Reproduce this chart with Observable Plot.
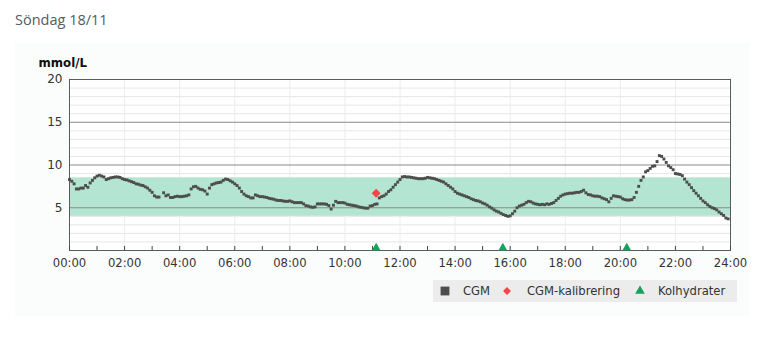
<!DOCTYPE html>
<html>
<head>
<meta charset="utf-8">
<script src="https://cdn.jsdelivr.net/npm/d3@7"></script>
<script src="https://cdn.jsdelivr.net/npm/@observablehq/plot@0.6"></script>
<style>
  body { margin: 0; background: #ffffff; width: 767px; height: 338px; position: relative; overflow: hidden; }
  #title { position: absolute; left: 15px; top: 13px; font: 14.5px/1 "Open Sans", sans-serif; color: #555b60; }
  #panel { position: absolute; left: 15px; top: 42px; width: 735px; height: 274px; background: #fbfcfc; }
  #chart { position: absolute; left: 0; top: 40px; }
  #legend { position: absolute; left: 433px; top: 280px; width: 304px; height: 22px; background: #ececec;
            font: 11.6px "DejaVu Sans", sans-serif; color: #333; }
  #legend svg { position: absolute; top: 0; }
  #legend span { position: absolute; top: 4px; white-space: nowrap; }
</style>
</head>
<body>
<div id="panel"></div>
<div id="title">Söndag 18/11</div>
<div id="chart"></div>
<div id="legend"></div>
<script>
// CGM readings (mmol/L), one per 5 minutes, one row per hour (null = missing)
const cgmHour00 = [8.3, 8.1, 7.8, 7.2, 7.2, 7.3, 7.3, 7.6, 7.4, 7.9, 8.2, 8.5];
const cgmHour01 = [8.7, 8.8, 8.7, 8.6, 8.3, 8.4, 8.5, 8.55, 8.6, 8.6, 8.55, 8.4];
const cgmHour02 = [8.3, 8.25, 8.15, 8.05, 7.95, 7.8, 7.75, 7.65, 7.6, 7.45, 7.3, 7.05];
const cgmHour03 = [6.8, 6.4, 6.25, 6.25, null, 6.75, 6.4, 6.5, 6.2, 6.2, 6.3, 6.35];
const cgmHour04 = [6.3, 6.3, 6.35, 6.4, 6.5, 7.2, 7.45, 7.5, 7.3, 7.15, 7.1, 6.95];
const cgmHour05 = [6.6, 7.3, 7.7, 7.8, 7.9, 7.95, 8.0, 8.2, 8.35, 8.3, 8.15, 8.0];
const cgmHour06 = [7.8, 7.6, 7.3, 6.9, 6.6, 6.4, 6.3, 6.15, 6.15, 6.5, 6.4, 6.3];
const cgmHour07 = [6.3, 6.25, 6.2, 6.1, 6.05, 6.0, 5.9, 5.85, 5.85, 5.8, 5.75, 5.75];
const cgmHour08 = [5.8, 5.7, 5.6, 5.6, 5.6, 5.6, 5.45, 5.25, 5.2, 5.1, 5.05, 5.1];
const cgmHour09 = [5.45, 5.45, 5.45, 5.45, 5.4, 5.25, 4.85, 5.3, 5.75, 5.6, 5.6, 5.6];
const cgmHour10 = [5.55, 5.4, 5.35, 5.3, 5.25, 5.2, 5.1, 5.05, 5.0, 4.95, 4.95, 5.2];
const cgmHour11 = [5.25, 5.4, 5.45, 6.15, 6.3, 6.4, 6.6, 6.9, 7.1, 7.4, 7.7, 8.0];
const cgmHour12 = [8.3, 8.6, 8.65, 8.6, 8.6, 8.55, 8.5, 8.45, 8.4, 8.4, 8.4, 8.45];
const cgmHour13 = [8.55, 8.5, 8.45, 8.4, 8.3, 8.2, 8.1, 8.0, 7.8, 7.6, 7.4, 7.2];
const cgmHour14 = [6.9, 6.7, 6.6, 6.5, 6.4, 6.3, 6.2, 6.05, 5.95, 5.85, 5.8, 5.7];
const cgmHour15 = [5.55, 5.45, 5.3, 5.1, 4.95, 4.75, 4.6, 4.5, 4.35, 4.2, 4.1, 4.0];
const cgmHour16 = [4.05, 4.3, 4.6, 5.0, 5.2, 5.3, 5.4, 5.6, 5.75, 5.7, 5.55, 5.45];
const cgmHour17 = [5.4, 5.35, 5.4, 5.35, 5.45, 5.4, 5.5, 5.6, 5.85, 6.1, 6.35, 6.5];
const cgmHour18 = [6.6, 6.65, 6.7, 6.7, 6.75, 6.8, 6.8, 6.9, 7.05, 6.75, 6.55, 6.5];
const cgmHour19 = [6.4, 6.35, 6.35, 6.3, 6.15, 6.05, 5.95, 5.7, 6.1, 6.4, 6.35, 6.3];
const cgmHour20 = [6.25, 6.05, 5.95, 5.9, 5.9, 5.95, 6.2, 6.8, 7.5, 8.2, 8.6, 9.2];
const cgmHour21 = [9.35, 9.6, 9.85, 9.9, 10.4, 11.1, 11.0, 10.7, 10.3, 9.9, 9.7, 9.45];
const cgmHour22 = [9.0, 8.95, 8.9, 8.75, 8.35, 8.0, 7.7, 7.35, 7.0, 6.7, 6.4, 6.1];
const cgmHour23 = [5.8, 5.6, 5.35, 5.15, 5.0, 4.9, 4.75, 4.5, 4.3, 4.1, 3.8, 3.7];

// CGM calibration
const calibTimes = ["11:08"];
const calibValues = [6.7];

// Carbohydrate entries
const carbTimes = ["11:08", "15:44", "20:14"];

// Target range (mmol/L)
const targetLow = [4.0];
const targetHigh = [8.5];

// Axis ticks
const yTicks = [5, 10, 15, 20];
const yMajorGrid = [5, 10, 15];
const yMinorGrid = [1, 2, 3, 4, 6, 7, 8, 9, 11, 12, 13, 14, 16, 17, 18, 19];
const xTickLabels = ["00:00", "02:00", "04:00", "06:00", "08:00", "10:00", "12:00",
                     "14:00", "16:00", "18:00", "20:00", "22:00", "24:00"];
const xMinorTickLabels = ["01:00", "03:00", "05:00", "07:00", "09:00", "11:00",
                          "13:00", "15:00", "17:00", "19:00", "21:00", "23:00"];
const yLabel = "mmol/L";
const legendLabels = ["CGM", "CGM-kalibrering", "Kolhydrater"];

// ---- build tables ----
const toHours = s => { const [h, m] = s.split(":").map(Number); return h + m / 60; };
const cgmRows = [cgmHour00, cgmHour01, cgmHour02, cgmHour03, cgmHour04, cgmHour05, cgmHour06, cgmHour07,
  cgmHour08, cgmHour09, cgmHour10, cgmHour11, cgmHour12, cgmHour13, cgmHour14, cgmHour15,
  cgmHour16, cgmHour17, cgmHour18, cgmHour19, cgmHour20, cgmHour21, cgmHour22, cgmHour23];
const cgm = [];
cgmRows.forEach((row, h) => row.forEach((v, k) => { if (v != null) cgm.push({t: h + k * 5 / 60, v}); }));
const calib = calibTimes.map((t, i) => ({t: toHours(t), v: calibValues[i]}));
const carbs = carbTimes.map(t => ({t: toHours(t), v: 0}));
const band = targetLow.map((lo, i) => ({lo, hi: targetHigh[i]}));
const xTicks = xTickLabels.map(toHours);
const xAllTicks = xTicks.concat(xMinorTickLabels.map(toHours));
const fmt = h => String(h).padStart(2, "0") + ":00";

const W = 767, H = 240, mT = 39, mB = 30, mL = 69, mR = 37;
const chart = Plot.plot({
  width: W, height: H,
  marginTop: mT, marginBottom: mB, marginLeft: mL, marginRight: mR,
  style: {fontFamily: "'DejaVu Sans', sans-serif", fontSize: "11.6px", color: "#333", background: "transparent", overflow: "visible"},
  x: {domain: [0, 24], label: null},
  y: {domain: [0, 20], label: null},
  marks: [
    Plot.frame({fill: "white", stroke: "none"}),
    Plot.gridY(yMinorGrid, {stroke: "#e6e6e6", strokeOpacity: 1}),
    Plot.gridX(xTicks, {stroke: "#ececec", strokeOpacity: 1}),
    Plot.rect(band, {y1: "lo", y2: "hi", fill: "#b3e5d2"}),
    Plot.gridY(yMajorGrid, {stroke: "#8a8a8a", strokeOpacity: 1}),
    Plot.frame({stroke: "#5a5a5a"}),
    Plot.axisY(yTicks, {tickSize: 0, tickPadding: 7, fontSize: 12, label: null}),
    Plot.axisX(xTicks, {tickSize: 0, tickPadding: 8, tickFormat: fmt, label: null, fontSize: 11.6}),
    Plot.axisX(xAllTicks, {tickSize: 4, dy: -4, text: null, label: null, stroke: "#444"}),
    Plot.dot(cgm, {x: "t", y: "v", symbol: "square", r: 1.65, fill: "#4d4d4d", stroke: "none"}),
    Plot.dot(calib, {x: "t", y: "v", symbol: "diamond2", r: 4.0, fill: "#f54545", stroke: "none"}),
    Plot.dot(carbs, {x: "t", y: "v", symbol: "triangle", r: 3.3, dy: -2.6, fill: "#16a15e", stroke: "none", clip: false}),
    Plot.text([yLabel], {frameAnchor: "top-left", dx: -31, dy: -16, textAnchor: "start", lineAnchor: "middle", fontWeight: "bold", fontSize: 11.8, fill: "#111"})
  ]
});
document.getElementById("chart").appendChild(chart);

// ---- legend ----
const legend = document.getElementById("legend");
const items = [
  {sym: d3.symbolSquare, color: "#4d4d4d", cx: 11.5, size: 78, lx: 30},
  {sym: d3.symbolDiamond2, color: "#f54545", cx: 74, size: 40, lx: 94},
  {sym: d3.symbolTriangle, color: "#16a15e", cx: 207, size: 40, lx: 225}
];
items.forEach((it, i) => {
  const svg = d3.create("svg").attr("width", 20).attr("height", 22)
    .style("left", (it.cx - 10) + "px");
  svg.append("path")
    .attr("d", d3.symbol(it.sym, it.size)())
    .attr("transform", "translate(10,11)")
    .attr("fill", it.color);
  legend.appendChild(svg.node());
  const sp = document.createElement("span");
  sp.textContent = legendLabels[i];
  sp.style.left = it.lx + "px";
  legend.appendChild(sp);
});
</script>
</body>
</html>
